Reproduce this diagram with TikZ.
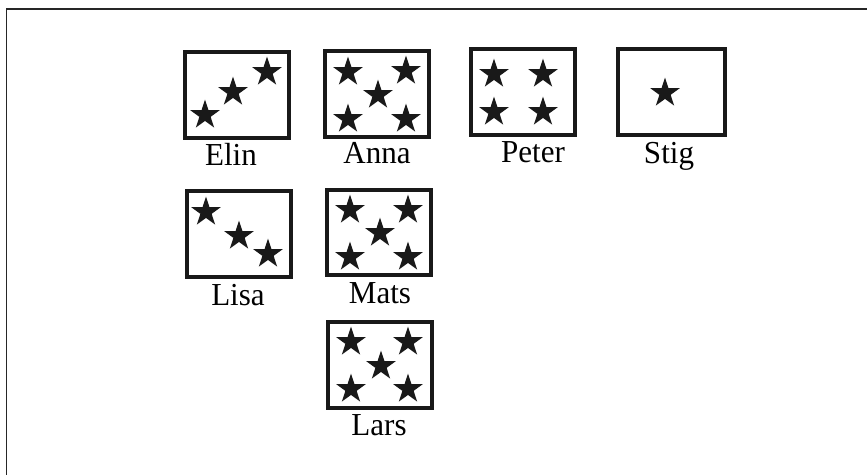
\documentclass[tikz,border=0pt]{standalone}
\usepackage{fontspec}
\setmainfont{Liberation Serif}
\usetikzlibrary{shapes.geometric}
\begin{document}
\begin{tikzpicture}[x=1pt,y=-1pt,
  card/.style={draw=black!90,line width=3.6pt,rectangle,inner sep=0pt,
    minimum width=#1},
  card/.default=104.4pt,
  mark5/.style={star,star points=5,star point ratio=2.618,fill=black!90,
    draw=none,inner sep=0pt,minimum size=31pt},
  cardname/.style={anchor=base,inner sep=0pt,
    font=\fontsize{32}{32}\selectfont,xscale=0.97},
  frameline/.style={draw=black!85,line width=1.6pt}]
\useasboundingbox (0,0) rectangle (867,475);
% outer frame (top and left edges)
\coordinate (fTL) at (6.5,9);
\coordinate (fTR) at (867,9);
\coordinate (fBL) at (6.5,475);
\draw[frameline] (fTR) -- (fTL) -- (fBL);

% cards: row 1
\node[card,minimum height=86.4pt] (elin) at (237,95) {};
\node[card,minimum height=86.4pt] (anna) at (377,94) {};
\node[card,minimum height=86.4pt] (peter) at (523,92) {};
\node[card=107.4pt,minimum height=86.4pt] (stig) at (671.5,92) {};
% row 2
\node[card,minimum height=86.4pt] (lisa) at (239,234) {};
\node[card,minimum height=85.4pt] (mats) at (379,232.5) {};
% row 3
\node[card,minimum height=86.4pt] (lars) at (380,365) {};

% stars
\node[mark5] (elin-s1) at (205,115) {};
\node[mark5] (elin-s2) at (233,92) {};
\node[mark5] (elin-s3) at (267,72) {};

\node[mark5] (anna-s1) at (348,72) {};
\node[mark5] (anna-s2) at (406,71) {};
\node[mark5] (anna-s3) at (378,95) {};
\node[mark5] (anna-s4) at (348,119) {};
\node[mark5] (anna-s5) at (406,119) {};

\node[mark5] (peter-s1) at (494,74) {};
\node[mark5] (peter-s2) at (543,74) {};
\node[mark5] (peter-s3) at (494,112) {};
\node[mark5] (peter-s4) at (543,112) {};

\node[mark5] (stig-s1) at (665,93) {};

\node[mark5] (lisa-s1) at (206,212) {};
\node[mark5] (lisa-s2) at (239,236) {};
\node[mark5] (lisa-s3) at (268,254) {};

\node[mark5] (mats-s1) at (350,210) {};
\node[mark5] (mats-s2) at (408,210) {};
\node[mark5] (mats-s3) at (380,233) {};
\node[mark5] (mats-s4) at (350,257) {};
\node[mark5] (mats-s5) at (408,257) {};

\node[mark5] (lars-s1) at (351,342) {};
\node[mark5] (lars-s2) at (408,342) {};
\node[mark5] (lars-s3) at (381,366) {};
\node[mark5] (lars-s4) at (351,389) {};
\node[mark5] (lars-s5) at (408,389) {};

% names
\node[cardname] (elin-l) at (231,165) {Elin};
\node[cardname] (anna-l) at (377,163) {Anna};
\node[cardname] (peter-l) at (533,162) {Peter};
\node[cardname] (stig-l) at (669,163) {Stig};
\node[cardname] (lisa-l) at (238,305) {Lisa};
\node[cardname] (mats-l) at (380,303) {Mats};
\node[cardname] (lars-l) at (379,435) {Lars};
\end{tikzpicture}
\end{document}
